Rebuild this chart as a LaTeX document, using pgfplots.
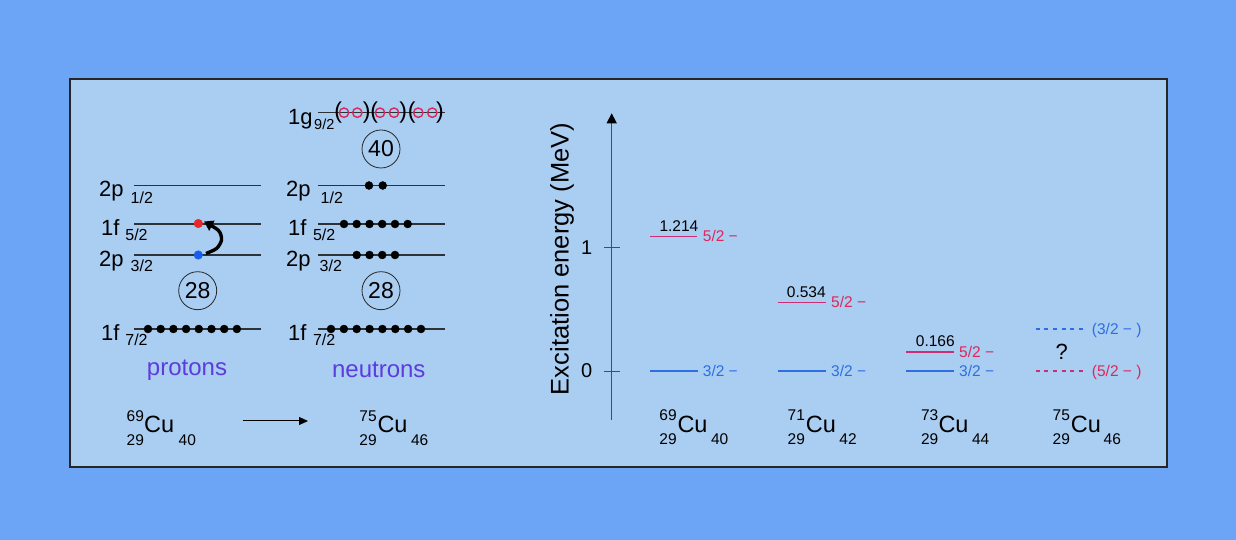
\documentclass[border=0pt]{standalone}
\usepackage{pgfplots}
\pgfplotsset{compat=1.18}
\usepackage{fontspec}
\setmainfont{Liberation Sans}
\usetikzlibrary{arrows.meta}
\definecolor{outerblue}{RGB}{108,165,245}
\definecolor{innerblue}{RGB}{170,205,242}
\definecolor{lvlblue}{RGB}{45,110,225}
\definecolor{lvlline}{RGB}{205,45,115}
\definecolor{lvlred}{RGB}{220,40,90}
\definecolor{purp}{RGB}{92,60,220}
\definecolor{axgray}{RGB}{60,80,100}
\definecolor{dotred}{RGB}{232,40,40}
\definecolor{dotblue}{RGB}{25,95,235}
\definecolor{shell}{RGB}{45,50,55}
\newcommand{\fs}[1]{\fontsize{#1bp}{#1bp}\selectfont}
\newcommand{\T}[4]{\node[anchor=base west,inner sep=0pt,font=\fs{#3}] at (axis cs:#1,#2) {#4};}
\newcommand{\TC}[5]{\node[anchor=base west,inner sep=0pt,font=\fs{#3},text=#5] at (axis cs:#1,#2) {#4};}
\newcommand{\Par}[2]{\node[font=\fs{23},inner sep=0pt] at (axis cs:#1,112.4) {#2};}
\begin{document}
\begin{tikzpicture}
\begin{axis}[at={(0,0)}, anchor=south west, scale only axis, width=1236bp, height=540bp,
  xmin=0, xmax=1236, ymin=0, ymax=540, y dir=reverse, axis lines=none, clip=false]
\addplot[fill=outerblue, draw=none] coordinates {(0,0) (1236,0) (1236,540) (0,540)} -- cycle;
\addplot[fill=innerblue, draw=black!85, line width=2bp] coordinates {(70,79) (1167,79) (1167,467) (70,467)} -- cycle;
% proton shells
\addplot[shell, line width=1.2bp] coordinates {(134,185.5) (261,185.5)};
\addplot[shell, line width=1.2bp] coordinates {(134,224) (261,224)};
\addplot[shell, line width=1.2bp] coordinates {(134,255) (261,255)};
\addplot[shell, line width=1.2bp] coordinates {(134,329) (261,329)};
% neutron shells
\addplot[shell, line width=1.2bp] coordinates {(318,112.7) (445,112.7)};
\addplot[shell, line width=1.2bp] coordinates {(318,185.5) (445,185.5)};
\addplot[shell, line width=1.2bp] coordinates {(318,224) (445,224)};
\addplot[shell, line width=1.2bp] coordinates {(318,255) (445,255)};
\addplot[shell, line width=1.2bp] coordinates {(318,329) (445,329)};
% dots
\addplot[only marks, mark=*, mark size=4bp, black] coordinates {(148,329) (160.7,329) (173.4,329) (186.1,329) (198.8,329) (211.5,329) (224.2,329) (236.9,329)};
\addplot[only marks, mark=*, mark size=4bp, black] coordinates {(331,329) (343.9,329) (356.7,329) (369.6,329) (382.4,329) (395.3,329) (408.1,329) (421,329)};
\addplot[only marks, mark=*, mark size=4bp, black] coordinates {(344,224) (356.7,224) (369.5,224) (382.2,224) (395,224) (407.7,224)};
\addplot[only marks, mark=*, mark size=4bp, black] coordinates {(356.7,255) (369.5,255) (382.2,255) (395,255)};
\addplot[only marks, mark=*, mark size=4bp, black] coordinates {(369,185.5) (382.7,185.5)};
\addplot[only marks, mark=*, mark size=4.3bp, dotred, mark options={draw=dotred}] coordinates {(198.3,223.5)};
\addplot[only marks, mark=*, mark size=4.3bp, dotblue, mark options={draw=dotblue}] coordinates {(198.3,255)};
\addplot[only marks, mark=o, mark size=4.7bp, lvlred, line width=1.4bp] coordinates {(344,112.7) (357.3,112.7) (380,112.7) (394,112.7) (418.3,112.7) (432.3,112.7)};
% curved arrow
\addplot[smooth, black, line width=3.4bp, -{Triangle[length=9bp,width=11bp]}] coordinates {(206,253.5) (216.5,248.5) (221.5,240) (218.5,230.5) (204,221.5)};
% parentheses
\Par{338.2}{(} \Par{374.3}{(} \Par{411.7}{(}
\Par{366.7}{)} \Par{403.3}{)} \Par{440}{)}
% circles
\node[circle, draw=black!85, line width=0.8bp, minimum size=38bp, inner sep=0pt, font=\fs{23}] at (axis cs:197.7,290.7) {28};
\node[circle, draw=black!85, line width=0.8bp, minimum size=38bp, inner sep=0pt, font=\fs{23}] at (axis cs:381,290.7) {28};
\node[circle, draw=black!85, line width=0.8bp, minimum size=38bp, inner sep=0pt, font=\fs{23}] at (axis cs:381,149) {40};
% shell labels protons
\T{99}{196.5}{22}{2p} \T{130.5}{203.5}{16}{1/2}
\T{101}{235.5}{22}{1f} \T{125.2}{240.5}{16}{5/2}
\T{99}{266.5}{22}{2p} \T{130.5}{272}{16}{3/2}
\T{101}{340.5}{22}{1f} \T{125.2}{345.5}{16}{7/2}
% neutrons
\T{288}{124.3}{22}{1g} \T{314}{130}{14.5}{9/2}
\T{286}{196.5}{22}{2p} \T{320.5}{203.5}{16}{1/2}
\T{288}{235.5}{22}{1f} \T{312.8}{240.5}{16}{5/2}
\T{286}{266.5}{22}{2p} \T{319.5}{272}{16}{3/2}
\T{288}{340.5}{22}{1f} \T{312.8}{345.5}{16}{7/2}
\node[font=\fs{24},text=purp] at (axis cs:187,370) {protons};
\node[font=\fs{24},text=purp] at (axis cs:378.8,370) {neutrons};
% Cu labels left
\T{126.5}{421.7}{15.5}{69} \T{144}{432.3}{23.5}{Cu} \T{126.5}{446}{15.5}{29} \T{178.5}{446}{15.5}{40}
\T{359.2}{421.7}{15.5}{75} \T{377.3}{432.3}{23.5}{Cu} \T{359.2}{446}{15.5}{29} \T{410.9}{446}{15.5}{46}
\addplot[black, line width=1bp, -{Triangle[length=9bp,width=8bp]}] coordinates {(242.7,421) (308,421)};
% Cu labels right
\T{659.2}{421}{15.5}{69} \T{677.3}{432.7}{23.5}{Cu} \T{659.2}{445}{15.5}{29} \T{710.9}{445}{15.5}{40}
\T{787.5}{421}{15.5}{71} \T{805.7}{432.7}{23.5}{Cu} \T{787.5}{445}{15.5}{29} \T{839.2}{445}{15.5}{42}
\T{920.9}{421}{15.5}{73} \T{938.3}{432.7}{23.5}{Cu} \T{920.9}{445}{15.5}{29} \T{971.9}{445}{15.5}{44}
\T{1052.5}{421}{15.5}{75} \T{1070.7}{432.7}{23.5}{Cu} \T{1052.5}{445}{15.5}{29} \T{1103.5}{445}{15.5}{46}
% level labels
\T{659.3}{231.7}{15.5}{1.214}
\T{786.7}{297.3}{15.5}{0.534}
\T{915.7}{347}{15.5}{0.166}
\TC{702.7}{242}{15.5}{5/2 −}{lvlred}
\TC{702.7}{376.3}{15.5}{3/2 −}{lvlblue}
\TC{831}{307.6}{15.5}{5/2 −}{lvlred}
\TC{831}{376.3}{15.5}{3/2 −}{lvlblue}
\TC{959}{357.3}{15.5}{5/2 −}{lvlred}
\TC{959}{376.3}{15.5}{3/2 −}{lvlblue}
\TC{1091.7}{334.3}{15.5}{(3/2 − )}{lvlblue}
\TC{1091.7}{376.3}{15.5}{(5/2 − )}{lvlred}
\node[font=\fs{22},inner sep=0pt] at (axis cs:1061.7,351.7) {?};
\end{axis}
\begin{axis}[at={(611.7bp,120bp)}, anchor=south west, scale only axis,
  width=548.3bp, height=306.7bp, xmin=611.7, xmax=1160, ymin=-0.397, ymax=2.09,
  axis x line=none, axis y line*=left, clip=false,
  y axis line style={-{Triangle[length=10bp,width=10bp,black]}, line width=1.3bp, draw=axgray},
  ytick={0,1}, yticklabels={0,1}, tick align=center, major tick length=15.7bp,
  ytick style={draw=axgray, line width=1bp},
  /pgf/number format/assume math mode=true,
  yticklabel style={font=\fs{20}, inner sep=0pt, anchor=east, xshift=-11.5bp},
  ylabel={Excitation energy (MeV)},
  ylabel style={at={(axis description cs:-0.0906,0.525)}, anchor=center, font=\fs{25.5}}]
\addplot[lvlblue, line width=1.1bp] coordinates {(650,0) (697.7,0)};
\addplot[lvlblue, line width=1.1bp] coordinates {(777.7,0) (825.7,0)};
\addplot[lvlblue, line width=1.1bp] coordinates {(906,0) (954.3,0)};
\addplot[lvlline, line width=1.1bp] coordinates {(650,1.089) (697.3,1.089)};
\addplot[lvlline, line width=1.1bp] coordinates {(777.7,0.557) (825.7,0.557)};
\addplot[lvlline, line width=1.1bp] coordinates {(906,0.154) (954.3,0.154)};
\addplot[lvlblue, line width=1.1bp, dash pattern=on 4bp off 4.6bp] coordinates {(1035.7,0.341) (1084.3,0.341)};
\addplot[lvlline, line width=1.1bp, dash pattern=on 4bp off 4.6bp] coordinates {(1035.7,0) (1084.3,0)};
\end{axis}
\end{tikzpicture}
\end{document}
